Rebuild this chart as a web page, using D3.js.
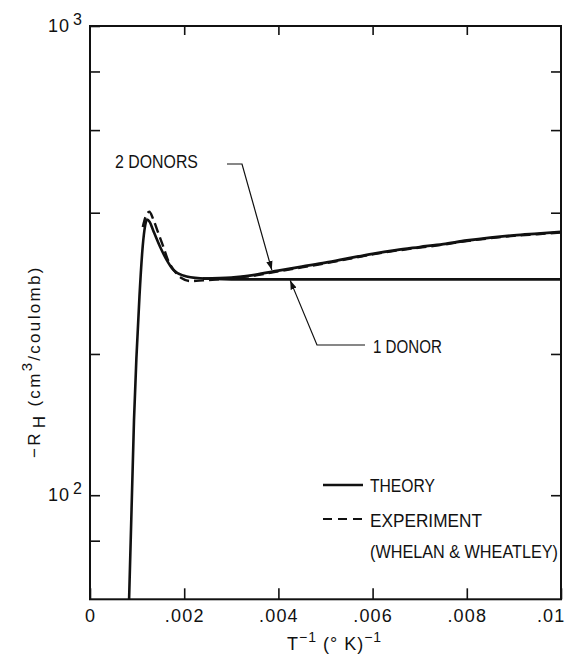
<!DOCTYPE html>
<html>
<head>
<meta charset="utf-8">
<script src="https://cdn.jsdelivr.net/npm/d3@7/dist/d3.min.js"></script>
<style>
  html, body { margin: 0; padding: 0; background: #fff; }
  svg { display: block; }
  text { font-family: "Liberation Sans", Arial, sans-serif; fill: #111; }
</style>
</head>
<body>
<svg id="chart" width="566" height="656"></svg>
<script>
// ---------- data ----------
const xTicks = [0, 0.002, 0.004, 0.006, 0.008, 0.01];
const xTickLabels = ["0", ".002", ".004", ".006", ".008", ".01"];
const xTopTicks = [0.002, 0.004, 0.006, 0.008];
const yLeftTicks = [80, 100, 200, 400, 600, 800, 1000];
const yRightTicks = [100, 200, 400, 600, 800];
const yLabelValues = [100, 1000];
const yLabelBase = ["10", "10"];
const yLabelExp = ["2", "3"];

// Theory, one donor (solid)
const oneDonorX = [0.00083, 0.000934, 0.00105, 0.00112, 0.00117, 0.00121, 0.00127, 0.00134, 0.00149, 0.00163, 0.00177, 0.00198, 0.00234, 0.0030, 0.0060, 0.0100];
const oneDonorY = [60, 144.5, 265, 340, 375, 387, 382, 367, 338, 317, 302, 294, 290, 288.4, 288.4, 288.4];

// Theory, two donors (solid)
const twoDonorX = [0.0024, 0.0030, 0.0035, 0.0040, 0.0045, 0.0050, 0.0055, 0.0060, 0.0065, 0.0070, 0.0075, 0.0080, 0.0085, 0.0090, 0.0095, 0.0100];
const twoDonorY = [289.5, 291, 295, 301, 307, 313, 320, 327, 333, 338, 343, 349, 354, 358, 361, 364];

// Experiment (Whelan & Wheatley), dashed
const expX = [0.00112, 0.00118, 0.00126, 0.00134, 0.00145, 0.00155, 0.00165, 0.00180, 0.00195, 0.00212, 0.00240, 0.0030, 0.0035, 0.0040, 0.0045, 0.0050, 0.0055, 0.0060, 0.0065, 0.0070, 0.0075, 0.0080, 0.0085, 0.0090, 0.0095, 0.0100];
const expY = [373, 392, 402, 388, 362, 340, 318, 300, 290, 286, 287, 290, 294, 300, 306, 312, 319, 326, 332, 337, 342, 348, 353, 357, 360, 363];

const legendLabels = ["THEORY", "EXPERIMENT", "(WHELAN & WHEATLEY)"];
const annot2 = { label: "2 DONORS", x: 0.00386, y: 302 };
const annot1 = { label: "1 DONOR", x: 0.00425, y: 288.4 };

// ---------- layout ----------
const svg = d3.select("#chart");
const L = 90, R = 561, T = 26, B = 599.3;

const x = d3.scaleLinear().domain([0, 0.01]).range([L, R]);
const y = d3.scaleLog().domain([60, 1000]).range([B, T]);

svg.append("defs").append("marker")
  .attr("id", "arr").attr("viewBox", "0 0 10 10")
  .attr("refX", 10).attr("refY", 5)
  .attr("markerWidth", 9).attr("markerHeight", 9)
  .attr("markerUnits", "userSpaceOnUse")
  .attr("orient", "auto")
  .append("path").attr("d", "M0,1.5 L10,5 L0,8.5 Z").attr("fill", "#111");

svg.append("clipPath").attr("id", "clip").append("rect")
  .attr("x", L).attr("y", T).attr("width", R - L).attr("height", B - T);

// axes
const gB = svg.append("g").attr("transform", `translate(0,${B})`)
  .call(d3.axisBottom(x).tickValues(xTicks).tickSizeInner(-11).tickSizeOuter(0)
    .tickPadding(10).tickFormat((d, i) => xTickLabels[i]));
const gT = svg.append("g").attr("transform", `translate(0,${T})`)
  .call(d3.axisTop(x).tickValues(xTopTicks).tickSizeInner(-9).tickSizeOuter(0).tickFormat(""));
const gL = svg.append("g").attr("transform", `translate(${L},0)`)
  .call(d3.axisLeft(y).tickValues(yLeftTicks).tickSizeInner(-10).tickSizeOuter(0).tickFormat(""));
const gR = svg.append("g").attr("transform", `translate(${R},0)`)
  .call(d3.axisRight(y).tickValues(yRightTicks).tickSizeInner(-10).tickSizeOuter(0).tickFormat(""));

[gB, gT, gL, gR].forEach(g => {
  g.select(".domain").remove();
  g.selectAll(".tick line").attr("stroke", "#111").attr("stroke-width", 1.6);
});
gB.selectAll(".tick text")
  .attr("font-size", 18).attr("letter-spacing", "1.2px").attr("fill", "#111")
  .attr("font-family", "'Liberation Sans', Arial, sans-serif")
  .attr("text-anchor", (d, i) => i === xTicks.length - 1 ? "end" : "middle")
  .attr("dx", (d, i) => i === xTicks.length - 1 ? 4 : 0);

// y labels 10^n
yLabelValues.forEach((v, i) => {
  const t = svg.append("text")
    .attr("x", 82).attr("y", y(v) + 6)
    .attr("text-anchor", "end")
    .attr("font-size", 18);
  t.append("tspan").text(yLabelBase[i]).attr("letter-spacing", "1px");
  t.append("tspan").text(yLabelExp[i]).attr("font-size", 16).attr("dx", 3).attr("dy", -7);
});

// frame
svg.append("rect").attr("x", L).attr("y", T).attr("width", R - L).attr("height", B - T)
  .attr("fill", "none").attr("stroke", "#111").attr("stroke-width", 2);

// curves
const line = d3.line().x(d => x(d[0])).y(d => y(d[1])).curve(d3.curveMonotoneX);
const plot = svg.append("g").attr("clip-path", "url(#clip)");

plot.append("path").datum(oneDonorX.map((v, i) => [v, oneDonorY[i]]))
  .attr("d", line).attr("fill", "none").attr("stroke", "#111").attr("stroke-width", 2.6)
  .attr("stroke-linejoin", "round");
plot.append("path").datum(twoDonorX.map((v, i) => [v, twoDonorY[i]]))
  .attr("d", line).attr("fill", "none").attr("stroke", "#111").attr("stroke-width", 2.8);
plot.append("path").datum(expX.map((v, i) => [v, expY[i]]))
  .attr("d", line).attr("fill", "none").attr("stroke", "#111").attr("stroke-width", 2.4)
  .attr("stroke-dasharray", "10,5");

// condensed label helper: horizontally scales text to a target width
function condensed(px, py, s, width, size) {
  const g = svg.append("g");
  const t = g.append("text").attr("x", 0).attr("y", 0).attr("font-size", size).text(s);
  const w = t.node().getComputedTextLength();
  g.attr("transform", `translate(${px},${py}) scale(${width / w},1)`);
  return g;
}

// annotations
const tip2 = [x(annot2.x), y(annot2.y)];
svg.append("path")
  .attr("d", `M227,164 L242,164 L${tip2[0]},${tip2[1]}`)
  .attr("fill", "none").attr("stroke", "#111").attr("stroke-width", 1.2)
  .attr("marker-end", "url(#arr)");
condensed(115, 168, annot2.label, 83, 18);

const tip1 = [x(annot1.x), y(annot1.y) + 1];
svg.append("path")
  .attr("d", `M365,345 L317,345 L${tip1[0]},${tip1[1]}`)
  .attr("fill", "none").attr("stroke", "#111").attr("stroke-width", 1.2)
  .attr("marker-end", "url(#arr)");
condensed(373, 353, annot1.label, 69, 18);

// legend
svg.append("line").attr("x1", 323).attr("x2", 363).attr("y1", 485).attr("y2", 485)
  .attr("stroke", "#111").attr("stroke-width", 2.6);
svg.append("line").attr("x1", 323).attr("x2", 363).attr("y1", 519).attr("y2", 519)
  .attr("stroke", "#111").attr("stroke-width", 1.8).attr("stroke-dasharray", "9,6");
const legY = [492, 527, 558];
const legW = [65, 112, 188];
legendLabels.forEach((s, i) => condensed(370, legY[i], s, legW[i], 18));

// x title
const xt = svg.append("text").attr("x", 287).attr("y", 650)
  .attr("font-size", 18).attr("letter-spacing", "1px");
xt.append("tspan").text("T");
xt.append("tspan").text("−1").attr("font-size", 14).attr("dy", -8);
xt.append("tspan").text(" (° K)").attr("dy", 8);
xt.append("tspan").text("−1").attr("font-size", 14).attr("dy", -8);

// y title
const yt = svg.append("text")
  .attr("transform", "translate(40,458) rotate(-90)")
  .attr("x", 0).attr("y", 0)
  .attr("font-size", 17).attr("letter-spacing", "2.3px");
yt.append("tspan").text("−R");
yt.append("tspan").text("H").attr("dy", 5).attr("dx", 3);
yt.append("tspan").text(" (cm").attr("dy", -5);
yt.append("tspan").text("3").attr("font-size", 15).attr("dy", -8);
yt.append("tspan").text("/coulomb)").attr("dy", 8);
</script>
</body>
</html>
